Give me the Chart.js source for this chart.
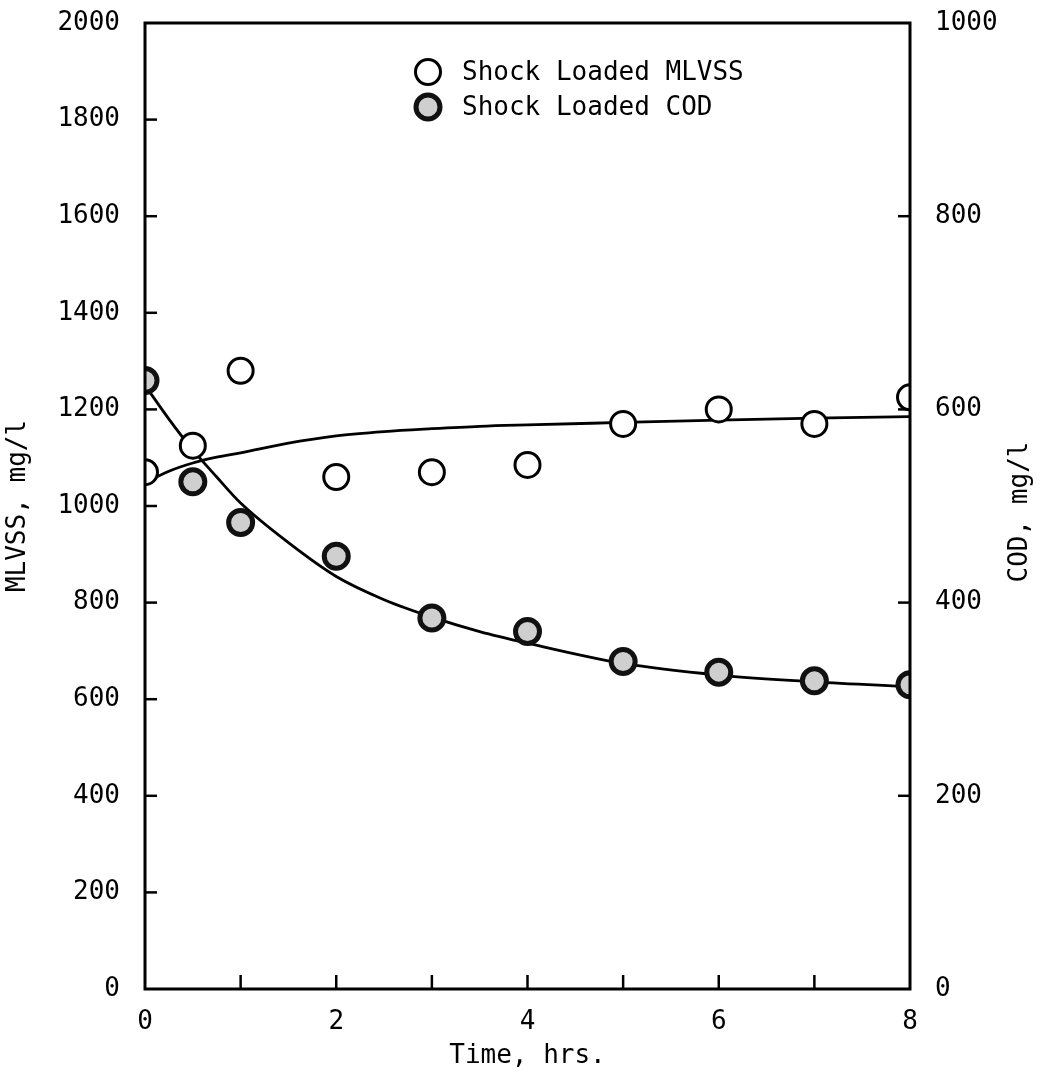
<!DOCTYPE html>
<html><head><meta charset="utf-8">
<script src="https://cdn.jsdelivr.net/npm/chart.js@4.4.1/dist/chart.umd.min.js"></script>
<style>html,body{margin:0;padding:0;background:#fff}#wrap{width:1040px;height:1076px}</style>
</head><body><div id="wrap"><canvas id="c" width="1040" height="1076"></canvas></div>
<script>
// ---- data ----
const timeHrs = [0, 0.5, 1, 2, 3, 4, 5, 6, 7, 8];
const mlvss = [1070, 1125, 1280, 1060, 1070, 1085, 1170, 1200, 1170, 1225];
const cod = [630, 525, 483, 448, 384, 370, 339, 328, 319, 315];
const fitTime = [0, 0.25, 0.5, 0.75, 1, 1.5, 2, 2.5, 3, 3.5, 4, 5, 6, 7, 8];
const mlvssFit = [1048, 1072, 1089, 1101, 1110, 1130, 1145, 1154, 1160, 1165, 1168, 1173, 1178, 1182, 1185];
const codFit = [625, 590, 558, 530, 503, 462, 427, 403, 385, 370, 358, 337, 325, 318, 313];
const xTicks = [0, 1, 2, 3, 4, 5, 6, 7, 8];
const xTickLabels = ['0', '', '2', '', '4', '', '6', '', '8'];
const leftTicks = [0, 200, 400, 600, 800, 1000, 1200, 1400, 1600, 1800, 2000];
const rightTicks = [0, 200, 400, 600, 800, 1000];
const seriesNames = ['Shock Loaded MLVSS', 'Shock Loaded COD'];
const axisTitles = {x: 'Time, hrs.', left: 'MLVSS, mg/l', right: 'COD, mg/l'};

const FONT = "'DejaVu Sans Mono', monospace";
const pts = (xs, ys) => xs.map((x, i) => ({x, y: ys[i]}));

const openStyle = {bg: '#ffffff', border: '#000000', bw: 3, r: 12.5};
const fillStyle = {bg: '#cfcfcf', border: '#111111', bw: 5, r: 12};

const overlay = {
  id: 'overlay',
  afterDraw(chart) {
    const {ctx, chartArea: a, scales} = chart;
    ctx.save();
    ctx.strokeStyle = '#000';
    ctx.lineCap = 'butt';
    ctx.lineWidth = 3;
    ctx.strokeRect(a.left, a.top, a.right - a.left, a.bottom - a.top);
    ctx.lineWidth = 2.5;
    const seg = (x1, y1, x2, y2) => { ctx.beginPath(); ctx.moveTo(x1, y1); ctx.lineTo(x2, y2); ctx.stroke(); };
    scales.y.ticks.forEach(t => {
      if (t.value <= scales.y.min || t.value >= scales.y.max) return;
      const py = scales.y.getPixelForValue(t.value);
      seg(a.left, py, a.left + 12, py);
    });
    scales.y2.ticks.forEach(t => {
      if (t.value <= scales.y2.min || t.value >= scales.y2.max) return;
      const py = scales.y2.getPixelForValue(t.value);
      seg(a.right, py, a.right - 12, py);
    });
    scales.x.ticks.forEach(t => {
      if (t.value <= scales.x.min || t.value >= scales.x.max) return;
      const px = scales.x.getPixelForValue(t.value);
      seg(px, a.bottom, px, a.bottom - 14);
    });
    ctx.fillStyle = '#000';
    ctx.font = "26px " + FONT;
    ctx.textAlign = 'center';
    ctx.textBaseline = 'middle';
    ctx.save();
    ctx.translate(1020, (a.top + a.bottom) / 2 + 6);
    ctx.rotate(-Math.PI / 2);
    ctx.fillText(axisTitles.right, 0, 0);
    ctx.restore();
    const entries = [
      {st: openStyle, text: seriesNames[0], cy: 72},
      {st: fillStyle, text: seriesNames[1], cy: 107}
    ];
    entries.forEach(e => {
      ctx.beginPath();
      ctx.arc(428, e.cy, e.st.r, 0, Math.PI * 2);
      ctx.fillStyle = e.st.bg; ctx.fill();
      ctx.lineWidth = e.st.bw; ctx.strokeStyle = e.st.border; ctx.stroke();
      ctx.fillStyle = '#000';
      ctx.textAlign = 'left';
      ctx.fillText(e.text, 462, e.cy + 1);
    });
    ctx.restore();
  }
};

const tickFont = {family: FONT, size: 26};
const titleFont = {family: FONT, size: 26};
const noPadY = s => { s.paddingTop = 0; s.paddingBottom = 0; };

new Chart(document.getElementById('c'), {
  type: 'scatter',
  data: {
    datasets: [
      {label: seriesNames[0], data: pts(timeHrs, mlvss), yAxisID: 'y', order: 0, clip: 0,
       pointRadius: openStyle.r, pointBackgroundColor: openStyle.bg, pointBorderColor: openStyle.border,
       pointBorderWidth: openStyle.bw, showLine: false},
      {label: seriesNames[1], data: pts(timeHrs, cod), yAxisID: 'y2', order: 0, clip: 0,
       pointRadius: fillStyle.r, pointBackgroundColor: fillStyle.bg, pointBorderColor: fillStyle.border,
       pointBorderWidth: fillStyle.bw, showLine: false},
      {label: 'MLVSS fit', data: pts(fitTime, mlvssFit), yAxisID: 'y', order: 2, clip: 0,
       showLine: true, pointRadius: 0, borderColor: '#000', borderWidth: 2.8, cubicInterpolationMode: 'monotone'},
      {label: 'COD fit', data: pts(fitTime, codFit), yAxisID: 'y2', order: 2, clip: 0,
       showLine: true, pointRadius: 0, borderColor: '#000', borderWidth: 2.8, cubicInterpolationMode: 'monotone'}
    ]
  },
  options: {
    responsive: false,
    animation: false,
    devicePixelRatio: 1,
    layout: {padding: {top: 23, left: 0, right: 0, bottom: 0}},
    plugins: {legend: {display: false}, tooltip: {enabled: false}},
    scales: {
      x: {
        type: 'linear', position: 'bottom', min: 0, max: 8,
        afterBuildTicks: s => { s.ticks = xTicks.map(v => ({value: v})); },
        afterFit: s => { s.height = 87; s.paddingLeft = 0; s.paddingRight = 0; },
        grid: {display: false}, border: {display: false},
        ticks: {autoSkip: false, maxRotation: 0, padding: 10, color: '#000', font: tickFont,
                callback: v => xTickLabels[xTicks.indexOf(v)]},
        title: {display: true, text: axisTitles.x, color: '#000', font: titleFont,
                padding: {top: 0, bottom: 4}}
      },
      y: {
        type: 'linear', position: 'left', min: 0, max: 2000,
        afterBuildTicks: s => { s.ticks = leftTicks.map(v => ({value: v})); },
        afterFit: s => { s.width = 145; noPadY(s); },
        grid: {display: false}, border: {display: false},
        ticks: {autoSkip: false, padding: 17, color: '#000', font: tickFont, callback: v => String(v)},
        title: {display: true, text: axisTitles.left, color: '#000', font: titleFont,
                padding: {top: 3, bottom: 0}}
      },
      y2: {
        type: 'linear', position: 'right', min: 0, max: 1000,
        afterBuildTicks: s => { s.ticks = rightTicks.map(v => ({value: v})); },
        afterFit: s => { s.width = 130; noPadY(s); },
        grid: {display: false}, border: {display: false},
        ticks: {autoSkip: false, padding: 17, color: '#000', font: tickFont, callback: v => String(v)}
      }
    }
  },
  plugins: [overlay]
});
</script>
</body></html>
